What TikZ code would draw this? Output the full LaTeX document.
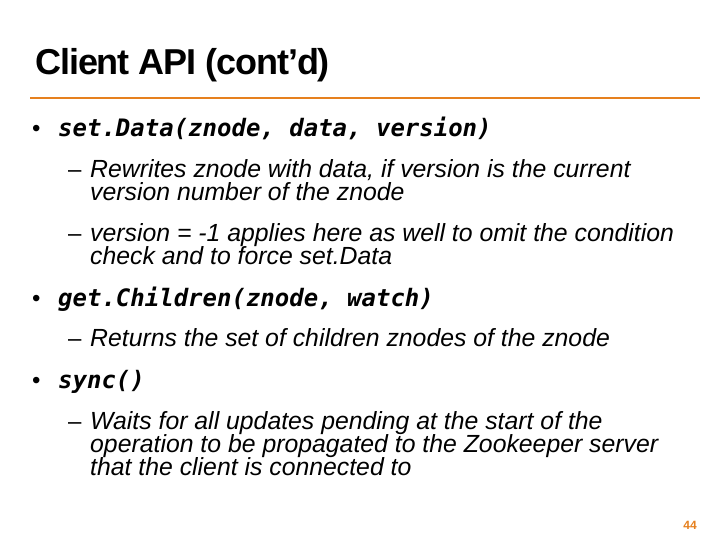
\documentclass[tikz,border=0pt]{standalone}
\usepackage{fontspec}
\setmainfont{Liberation Sans}
\newfontfamily\codefont{DejaVu Sans Mono}[BoldItalicFont={DejaVu Sans Mono Bold Oblique}]
\definecolor{slideorange}{RGB}{230,128,30}
\begin{document}
\begin{tikzpicture}[x=1pt,y=-1pt,
  txt/.style={anchor=base west,inner sep=0pt,font=\fontsize{24.8}{24}\selectfont\itshape},
  code/.style={anchor=base west,inner sep=0pt,font=\fontsize{24}{24}\selectfont\codefont\bfseries\itshape},
  bul/.style={anchor=base west,inner sep=0pt,font=\fontsize{24}{24}\selectfont}]
\useasboundingbox[fill=white] (0,0) rectangle (720,540);
\node[anchor=base west,inner sep=0pt,font=\fontsize{36}{36}\selectfont\bfseries\addfontfeatures{LetterSpace=-3}] (title) at (35,75) {Client API (cont’d)};
\draw[slideorange,line width=2.5pt] (30,98) -- (700,98);
\node[bul] (b1) at (32,137) {•};
\node[code] (c1) at (58,137) {set.Data(znode, data, version)};
\node[bul] (d1) at (68,178) {–};
\node[txt] (t1) at (90,178) {Rewrites znode with data, if version is the current};
\node[txt] (t2) at (90,201) {version number of the znode};
\node[bul] (d2) at (68,241) {–};
\node[txt] (t3) at (90,241) {version = -1 applies here as well to omit the condition};
\node[txt] (t4) at (90,264) {check and to force set.Data};
\node[bul] (b2) at (32,306) {•};
\node[code] (c2) at (58,306) {get.Children(znode, watch)};
\node[bul] (d3) at (68,346) {–};
\node[txt] (t5) at (90,346) {Returns the set of children znodes of the znode};
\node[bul] (b3) at (32,388) {•};
\node[code] (c3) at (58,388) {sync()};
\node[bul] (d4) at (68,429) {–};
\node[txt] (t6) at (90,429) {Waits for all updates pending at the start of the};
\node[txt] (t7) at (90,452) {operation to be propagated to the Zookeeper server};
\node[txt] (t8) at (90,475) {that the client is connected to};
\node[anchor=base east,inner sep=0pt,text=slideorange,font=\fontsize{12}{12}\selectfont\bfseries] (pg) at (697,529) {44};
\end{tikzpicture}
\end{document}
